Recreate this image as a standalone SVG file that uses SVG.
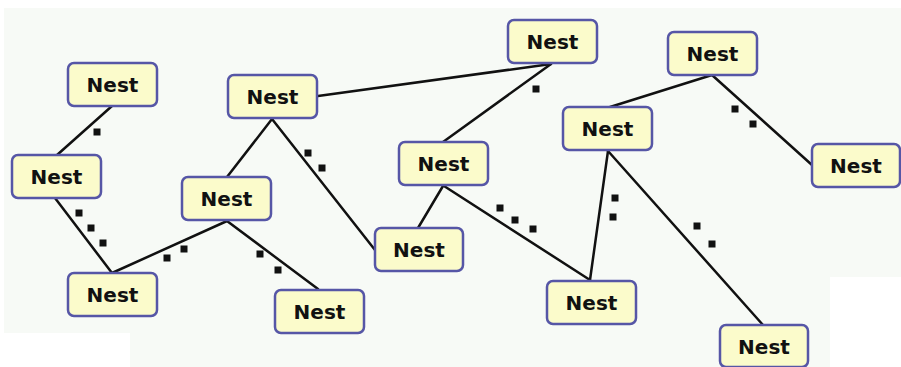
<svg xmlns="http://www.w3.org/2000/svg" width="901" height="367" viewBox="0 0 901 367">
<style>
.box{fill:#fbfbcb;stroke:#5656a6;stroke-width:2.5}
.lbl{font-family:"DejaVu Sans",sans-serif;font-weight:bold;font-size:20px;fill:#111;text-anchor:middle;dominant-baseline:central}
.ln{stroke:#111;stroke-width:2.5;fill:none;stroke-linecap:round}
.dot{fill:#111}
</style>
<defs>
<rect id="d" class="dot" x="-3.5" y="-3.5" width="7" height="7"/>
</defs>
<rect width="901" height="367" fill="#ffffff"/>
<path d="M4 8H901V277H830V367H130V333H4Z" fill="#f7faf6"/>
<g id="connectors">
<line class="ln" x1="112" y1="106" x2="57" y2="155"/>
<line class="ln" x1="55" y1="198" x2="112" y2="273"/>
<line class="ln" x1="112" y1="273" x2="227" y2="221"/>
<line class="ln" x1="227" y1="221" x2="318" y2="289"/>
<line class="ln" x1="227" y1="177" x2="272" y2="119"/>
<line class="ln" x1="272" y1="119" x2="375" y2="250"/>
<line class="ln" x1="318" y1="96" x2="551" y2="64"/>
<line class="ln" x1="551" y1="64" x2="443" y2="142"/>
<line class="ln" x1="443" y1="186" x2="418" y2="228"/>
<line class="ln" x1="444" y1="186" x2="590" y2="280"/>
<line class="ln" x1="590" y1="280" x2="608" y2="151"/>
<line class="ln" x1="608" y1="151" x2="763" y2="325"/>
<line class="ln" x1="610" y1="107" x2="712" y2="75"/>
<line class="ln" x1="712" y1="75" x2="812" y2="165"/>
<use href="#d" x="97" y="132"/>
<use href="#d" x="79" y="213"/>
<use href="#d" x="91" y="228"/>
<use href="#d" x="103" y="243"/>
<use href="#d" x="167" y="258"/>
<use href="#d" x="184" y="249"/>
<use href="#d" x="260" y="254"/>
<use href="#d" x="278" y="270"/>
<use href="#d" x="308" y="153"/>
<use href="#d" x="322" y="168"/>
<use href="#d" x="536" y="89"/>
<use href="#d" x="500" y="208"/>
<use href="#d" x="515" y="220"/>
<use href="#d" x="533" y="229"/>
<use href="#d" x="615" y="198"/>
<use href="#d" x="613" y="217"/>
<use href="#d" x="697" y="226"/>
<use href="#d" x="712" y="244"/>
<use href="#d" x="735" y="109"/>
<use href="#d" x="753" y="124"/>
</g>
<g id="n1"><rect class="box" x="68" y="63" width="89" height="43" rx="6"/><text class="lbl" x="112.5" y="85">Nest</text></g>
<g id="n2"><rect class="box" x="12" y="155" width="89" height="43" rx="6"/><text class="lbl" x="56.5" y="177">Nest</text></g>
<g id="n3"><rect class="box" x="68" y="273" width="89" height="43" rx="6"/><text class="lbl" x="112.5" y="295">Nest</text></g>
<g id="n4"><rect class="box" x="182" y="177" width="89" height="43" rx="6"/><text class="lbl" x="226.5" y="199">Nest</text></g>
<g id="n5"><rect class="box" x="275" y="290" width="89" height="43" rx="6"/><text class="lbl" x="319.5" y="312">Nest</text></g>
<g id="n6"><rect class="box" x="228" y="75" width="89" height="43" rx="6"/><text class="lbl" x="272.5" y="97">Nest</text></g>
<g id="n7"><rect class="box" x="375" y="228" width="88" height="43" rx="6"/><text class="lbl" x="419" y="250">Nest</text></g>
<g id="n8"><rect class="box" x="399" y="142" width="89" height="43" rx="6"/><text class="lbl" x="443.5" y="164">Nest</text></g>
<g id="n9"><rect class="box" x="508" y="20" width="89" height="43" rx="6"/><text class="lbl" x="552.5" y="42">Nest</text></g>
<g id="n10"><rect class="box" x="563" y="107" width="89" height="43" rx="6"/><text class="lbl" x="607.5" y="129">Nest</text></g>
<g id="n11"><rect class="box" x="547" y="281" width="89" height="43" rx="6"/><text class="lbl" x="591.5" y="303">Nest</text></g>
<g id="n12"><rect class="box" x="668" y="32" width="89" height="43" rx="6"/><text class="lbl" x="712.5" y="54">Nest</text></g>
<g id="n13"><rect class="box" x="812" y="144" width="88" height="43" rx="6"/><text class="lbl" x="856" y="166">Nest</text></g>
<g id="n14"><rect class="box" x="720" y="325" width="88" height="42" rx="6"/><text class="lbl" x="764" y="347">Nest</text></g>
</svg>
